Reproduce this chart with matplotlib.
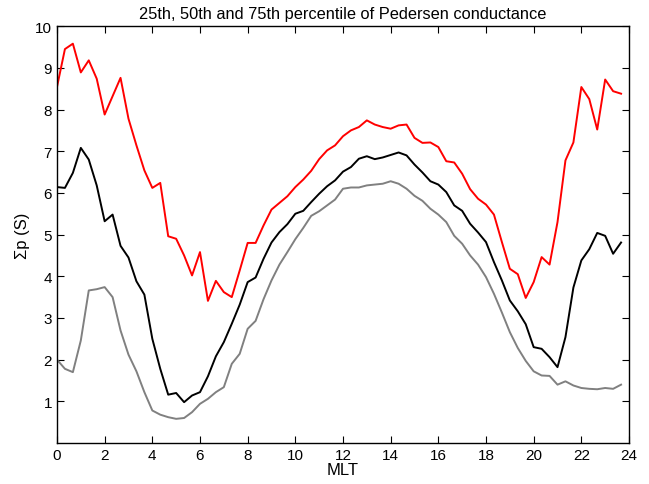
import numpy as np
import matplotlib
matplotlib.use('Agg')
import matplotlib.pyplot as plt

plt.rcParams['font.family'] = ['Liberation Sans', 'DejaVu Sans']

# MLT bins, 20 minutes wide
mlt = np.arange(72) / 3.0

# 75th percentile
p75 = [8.54, 9.45, 9.58, 8.89, 9.18, 8.74, 7.88, 8.32, 8.76, 7.78, 7.14, 6.54,
       6.12, 6.24, 4.96, 4.90, 4.50, 4.02, 4.58, 3.41, 3.89, 3.62, 3.50, 4.14,
       4.80, 4.80, 5.22, 5.60, 5.76, 5.92, 6.14, 6.32, 6.53, 6.81, 7.02, 7.14,
       7.36, 7.50, 7.58, 7.74, 7.64, 7.58, 7.54, 7.62, 7.64, 7.32, 7.20, 7.21,
       7.10, 6.76, 6.73, 6.46, 6.09, 5.86, 5.72, 5.48, 4.82, 4.18, 4.05, 3.48,
       3.86, 4.46, 4.28, 5.30, 6.78, 7.21, 8.54, 8.25, 7.52, 8.72, 8.44, 8.38]

# 50th percentile
p50 = [6.14, 6.12, 6.48, 7.08, 6.80, 6.18, 5.32, 5.48, 4.73, 4.45, 3.88, 3.56,
       2.50, 1.78, 1.16, 1.20, 0.98, 1.14, 1.22, 1.60, 2.08, 2.42, 2.86, 3.32,
       3.86, 3.97, 4.42, 4.81, 5.06, 5.25, 5.50, 5.57, 5.78, 5.98, 6.16, 6.30,
       6.51, 6.62, 6.82, 6.88, 6.81, 6.85, 6.91, 6.97, 6.90, 6.68, 6.49, 6.28,
       6.20, 6.02, 5.70, 5.57, 5.26, 5.05, 4.82, 4.34, 3.90, 3.42, 3.16, 2.85,
       2.30, 2.26, 2.06, 1.82, 2.54, 3.73, 4.38, 4.65, 5.04, 4.97, 4.54, 4.81]

# 25th percentile
p25 = [2.00, 1.78, 1.70, 2.46, 3.66, 3.69, 3.74, 3.50, 2.70, 2.12, 1.72, 1.22,
       0.78, 0.68, 0.62, 0.58, 0.60, 0.74, 0.94, 1.06, 1.22, 1.34, 1.90, 2.14,
       2.74, 2.93, 3.45, 3.90, 4.28, 4.58, 4.89, 5.16, 5.45, 5.56, 5.70, 5.84,
       6.10, 6.13, 6.13, 6.18, 6.20, 6.22, 6.28, 6.22, 6.10, 5.93, 5.81, 5.62,
       5.48, 5.30, 4.97, 4.78, 4.50, 4.28, 3.98, 3.58, 3.13, 2.66, 2.28, 1.97,
       1.72, 1.62, 1.61, 1.40, 1.48, 1.38, 1.32, 1.30, 1.29, 1.32, 1.30, 1.40]

fig = plt.figure(figsize=(6.49, 4.85), dpi=100)
ax = fig.add_axes([0.0878, 0.0845, 0.8814, 0.8595])

ax.plot(mlt, p75, color='red', lw=1.4)
ax.plot(mlt, p50, color='black', lw=1.4)
ax.plot(mlt, p25, color='#808080', lw=1.4)

ax.set_xlim(0, 24)
ax.set_ylim(0, 10)
ax.set_xticks(np.arange(0, 25, 2))
ax.set_yticks(np.arange(1, 11))
ax.tick_params(direction='in', top=True, right=True, length=5, labelsize=11)
for s in ax.spines.values():
    s.set_linewidth(1.0)

ax.set_title('25th, 50th and 75th percentile of Pedersen conductance', fontsize=11.8, pad=6)
ax.set_xlabel('MLT', fontsize=12, labelpad=0)
ax.set_ylabel('Σp (S)', fontsize=12, labelpad=4)

fig.savefig('out.png', dpi=100)
